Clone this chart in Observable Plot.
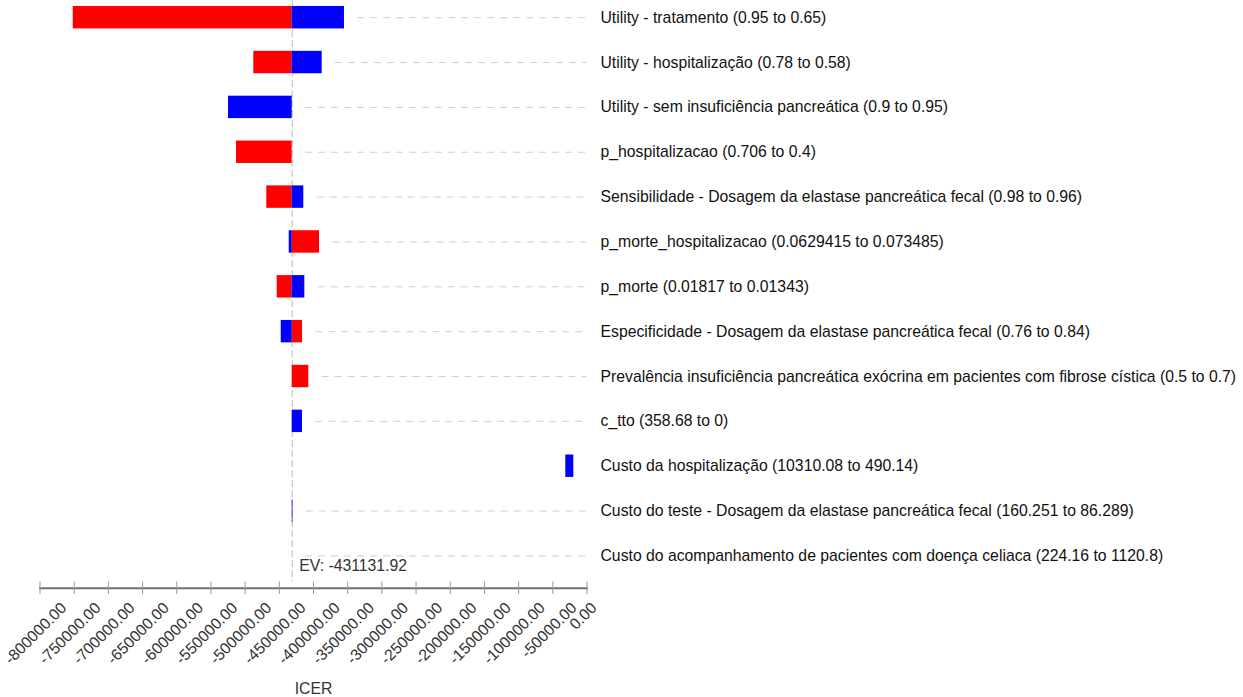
<!DOCTYPE html>
<html>
<head>
<meta charset="utf-8">
<script src="https://cdn.jsdelivr.net/npm/d3@7"></script>
<script src="https://cdn.jsdelivr.net/npm/@observablehq/plot@0.6"></script>
<style>
  html, body { margin: 0; padding: 0; background: #fff; }
  #chart svg { display: block; }
</style>
</head>
<body>
<div id="chart"></div>
<script>
// ---- Data ----
const EV = -431131.92;

const parameters = [
  "Utility - tratamento (0.95 to 0.65)",
  "Utility - hospitalização (0.78 to 0.58)",
  "Utility - sem insuficiência pancreática (0.9 to 0.95)",
  "p_hospitalizacao (0.706 to 0.4)",
  "Sensibilidade - Dosagem da elastase pancreática fecal (0.98 to 0.96)",
  "p_morte_hospitalizacao (0.0629415 to 0.073485)",
  "p_morte (0.01817 to 0.01343)",
  "Especificidade - Dosagem da elastase pancreática fecal (0.76 to 0.84)",
  "Prevalência insuficiência pancreática exócrina em pacientes com fibrose cística (0.5 to 0.7)",
  "c_tto (358.68 to 0)",
  "Custo da hospitalização (10310.08 to 490.14)",
  "Custo do teste - Dosagem da elastase pancreática fecal (160.251 to 86.289)",
  "Custo do acompanhamento de pacientes com doença celiaca (224.16 to 1120.8)"
];

// red bars (start/end ICER), null = no bar
const redStart = [-751400, -487300, null, -512600, -468300, EV,      -453100, EV,      EV,      null, null,   null, null];
const redEnd   = [EV,      EV,      null, EV,      EV,      -391200, EV,      -416100, -406900, null, null,   null, null];
// blue bars
const blueStart = [EV,      EV,      -524300, null, EV,      -435500, EV,      -447200, null, EV,      -31000, EV,      null];
const blueEnd   = [-354700, -387300, EV,      null, -414200, EV,      -412700, EV,      null, -416100, -19300, -430100, null];

const xTicks = [-800000, -750000, -700000, -650000, -600000, -550000, -500000, -450000,
                -400000, -350000, -300000, -250000, -200000, -150000, -100000, -50000, 0];

// ---- Build tables ----
const bars = [];
parameters.forEach((p, i) => {
  if (redStart[i] != null) bars.push({param: p, x1: redStart[i], x2: redEnd[i], color: "#ff0000"});
  if (blueStart[i] != null) bars.push({param: p, x1: blueStart[i], x2: blueEnd[i], color: "#0000ff"});
});
const rows = parameters.map((p, i) => ({
  param: p,
  right: Math.max(EV, ...[redStart[i], redEnd[i], blueStart[i], blueEnd[i]].filter(v => v != null))
}));

const fmt = d => d.toFixed(2);
const tickGroup = (len) => xTicks.filter(d => fmt(d).length === len);

const W = 1243, H = 697;

const chart = Plot.plot({
  width: W,
  height: H,
  marginLeft: 39.5,
  marginRight: 656.5,
  marginTop: 0,
  marginBottom: 115.5,
  style: {fontFamily: "'Liberation Sans', Arial, sans-serif", fontSize: "15.75px", background: "#fff", color: "#222"},
  x: {domain: [-800000, 0]},
  y: {domain: parameters, paddingInner: 0.5, paddingOuter: 0.2326, align: 0.287, round: false},
  color: {type: "identity"},
  marks: [
    // dashed guide lines to labels
    Plot.ruleY(rows, {y: "param", x1: "right", x2: 0, insetLeft: 13.3, stroke: "#cfcfcf", strokeDasharray: "7,6"}),
    // expected value line
    Plot.ruleX([EV], {stroke: "#b8b8b8", strokeDasharray: "7,3"}),
    // tornado bars
    Plot.barX(bars, {y: "param", x1: "x1", x2: "x2", fill: "color"}),
    // axis line
    Plot.frame({anchor: "bottom", stroke: "#707070", strokeWidth: 2, dy: 6.2}),
    // ticks + axis label
    Plot.axisX({ticks: xTicks, tickSize: 12.5, stroke: "#999", tickFormat: () => "", fill: "#333",
                label: "ICER", labelAnchor: "center", labelOffset: 112, labelArrow: "none"}),
    // rotated tick labels
    Plot.text(tickGroup(10), {x: d => d, text: fmt, frameAnchor: "bottom", rotate: -45, textAnchor: "end", dx: 27.4, dy: 26.9, fill: "#333"}),
    Plot.text(tickGroup(9),  {x: d => d, text: fmt, frameAnchor: "bottom", rotate: -45, textAnchor: "end", dx: 24.8, dy: 26.9, fill: "#333"}),
    Plot.text(tickGroup(4),  {x: d => d, text: fmt, frameAnchor: "bottom", rotate: -45, textAnchor: "end", dx: 10.6, dy: 26.9, fill: "#333"}),
    // EV label
    Plot.text([EV], {x: d => d, text: d => `EV: ${fmt(d)}`, frameAnchor: "bottom", textAnchor: "start", dx: 7, dy: -10.6, fill: "#333"}),
    // category labels on the right
    Plot.axisY({anchor: "right", tickSize: 0, tickPadding: 13.5, textAnchor: "start", label: null, fill: "#111"})
  ]
});

document.getElementById("chart").appendChild(chart);
</script>
</body>
</html>
